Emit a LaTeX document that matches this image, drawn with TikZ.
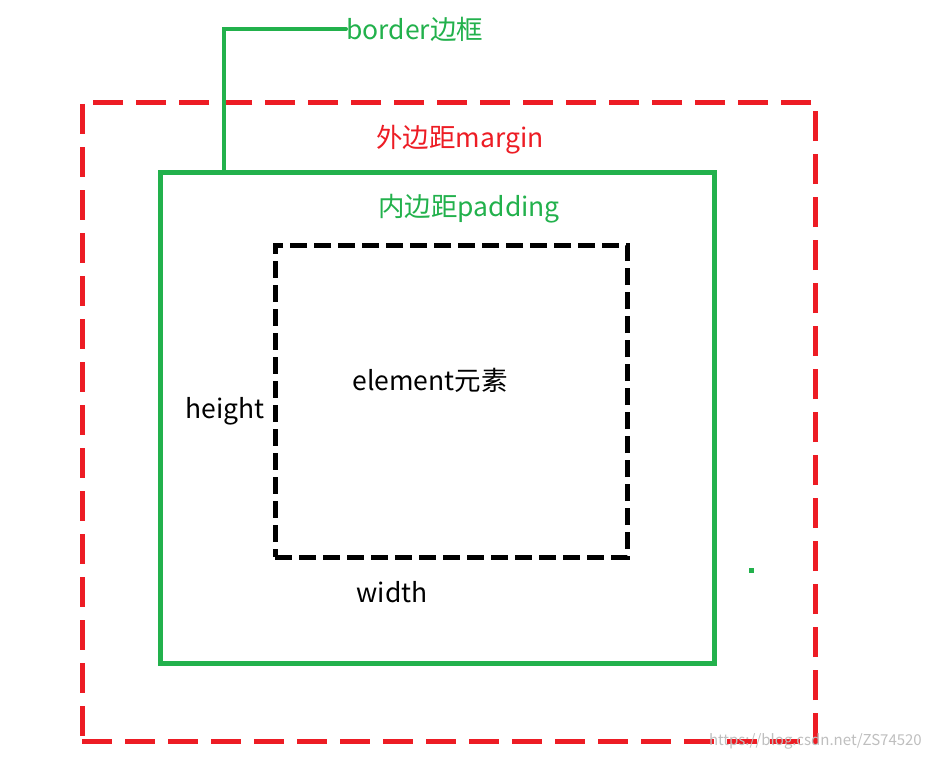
\documentclass[tikz,border=0pt]{standalone}
\usepackage{fontspec}
\setmainfont{Noto Sans CJK SC}
\definecolor{redc}{RGB}{237,28,36}
\definecolor{greenc}{RGB}{34,177,76}
\begin{document}
\begin{tikzpicture}[x=1pt,y=-1pt,
  box/.style={rectangle, inner sep=0pt, outer sep=0pt, anchor=north west},
  marginbox/.style={box, draw=redc, line width=5pt, dash pattern=on 30pt off 13pt},
  borderbox/.style={box, draw=greenc, line width=5pt},
  elembox/.style={box, draw=black, line width=5pt, dash pattern=on 17pt off 7pt},
  txt/.style={inner sep=0pt, font=\fontsize{26.5}{26.5}\selectfont},
  conn/.style={draw=greenc, line width=4pt, line cap=round}
]
\useasboundingbox (0,0) rectangle (932,760);
\fill[white] (0,0) rectangle (932,760);
\node[marginbox, minimum width=733pt, minimum height=639pt] (margin) at (82,102) {};
\node[borderbox, minimum width=554pt, minimum height=491pt] (border) at (160,172) {};
\node[elembox, minimum width=352pt, minimum height=312pt] (elem) at (275,245) {};
\node[txt, text=redc] (marginlbl) at (460,140) {外边距margin};
\node[txt, text=greenc] (paddinglbl) at (469,209) {内边距padding};
\node[txt] (elemlbl) at (430,380) {element元素};
\node[txt] (heightlbl) at (225,411) {height};
\node[txt] (widthlbl) at (392,592) {width};
\node[txt, text=greenc, anchor=west] (borderlbl) at (346,29) {border边框};
\coordinate (bstart) at ([xshift=64pt]border.north west);
\draw[conn] (bstart) |- (borderlbl.west);
\node[fill=greenc, minimum size=5pt, inner sep=0pt] (dot) at (751,570) {};
\node[anchor=east, text=black!25, inner sep=0pt, font=\fontsize{15}{15}\selectfont] (wm) at (922,741) {https://blog.csdn.net/ZS74520};
\end{tikzpicture}
\end{document}
